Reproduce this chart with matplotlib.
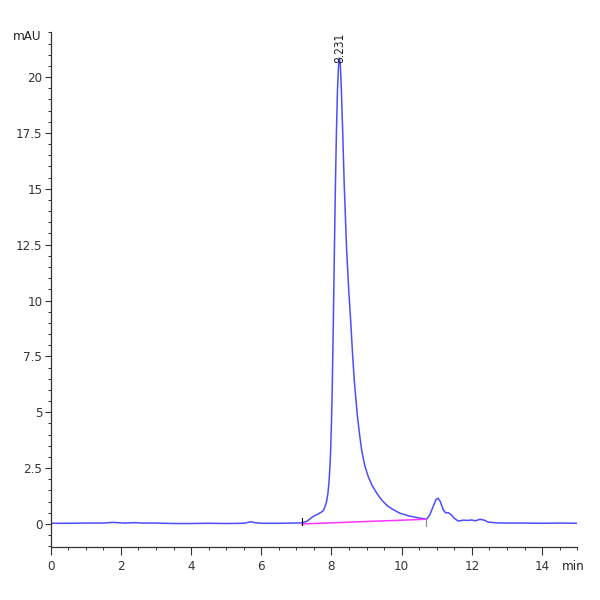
import matplotlib
matplotlib.use("Agg")
import matplotlib.pyplot as plt
from matplotlib.ticker import MultipleLocator
from matplotlib import font_manager

names = {f.name for f in font_manager.fontManager.ttflist}
if 'Liberation Sans Narrow' in names:
    plt.rcParams['font.family'] = ['Liberation Sans Narrow', 'DejaVu Sans']
else:
    plt.rcParams['font.family'] = ['DejaVu Sans']
    plt.rcParams['font.stretch'] = 'condensed'

# retention time (min) and absorbance (mAU)
time = [0.0, 0.5, 1.0, 1.5, 1.75, 1.9, 2.1, 2.4, 2.6, 3.0, 3.5, 4.0, 4.5, 5.0, 5.5,
        5.65, 5.72, 5.8, 6.0, 6.5, 6.9, 7.15, 7.3, 7.47, 7.6, 7.7, 7.77, 7.82, 7.86,
        7.9, 7.93, 7.96, 7.98, 8.0, 8.02, 8.05, 8.08, 8.11, 8.14, 8.17, 8.20, 8.22,
        8.25, 8.28, 8.32, 8.36, 8.43, 8.49, 8.55, 8.60, 8.65, 8.70, 8.74, 8.80, 8.86,
        8.95, 9.05, 9.15, 9.28, 9.43, 9.6, 9.75, 9.95, 10.2, 10.45, 10.66, 10.71,
        10.8, 10.9, 10.98, 11.04, 11.1, 11.18, 11.25, 11.33, 11.42, 11.5, 11.61,
        11.75, 11.9, 11.99, 12.1, 12.23, 12.35, 12.47, 12.7, 13.0, 13.5, 14.0, 14.5,
        15.0]
signal = [0.03, 0.03, 0.04, 0.04, 0.07, 0.06, 0.04, 0.06, 0.04, 0.04, 0.02, 0.02,
          0.03, 0.02, 0.03, 0.08, 0.10, 0.06, 0.03, 0.03, 0.04, 0.05, 0.12, 0.33,
          0.43, 0.52, 0.6, 0.8, 1.0, 1.4, 1.9, 2.7, 3.5, 4.6, 6.0, 8.8, 12.0, 15.0,
          17.5, 19.4, 20.5, 20.85, 20.6, 19.5, 17.5, 15.3, 12.3, 10.5, 9.0, 7.6, 6.4,
          5.5, 4.8, 4.0, 3.3, 2.6, 2.1, 1.75, 1.4, 1.07, 0.8, 0.65, 0.48, 0.36, 0.28,
          0.23, 0.22, 0.4, 0.8, 1.1, 1.15, 1.0, 0.65, 0.5, 0.5, 0.4, 0.25, 0.13, 0.17,
          0.16, 0.18, 0.14, 0.21, 0.17, 0.08, 0.05, 0.04, 0.04, 0.03, 0.04, 0.03]

baseline_t = [7.15, 10.68]
baseline_y = [0.0, 0.21]

peak_rt = 8.231
peak_h = 20.85
peak_label = "8.231"

fig = plt.figure(figsize=(6, 6), dpi=100)
ax = fig.add_axes([0.0845, 0.088, 0.8775, 0.858])

ax.plot(time, signal, color='#4d4dff', lw=1.1)
ax.plot(baseline_t, baseline_y, color='#ff33ff', lw=1.1)
ax.plot([baseline_t[0]] * 2, [-0.05, 0.25], color='black', lw=0.8)
ax.plot([baseline_t[1]] * 2, [baseline_y[1] - 0.3, baseline_y[1]], color='#888888', lw=0.8)

ax.text(peak_rt, peak_h - 0.2, peak_label, rotation=90, ha='center', va='bottom',
        fontsize=8.5, color='#222222')

ax.set_xlim(0, 15.0)
ax.set_ylim(-1.04, 22.0)
ax.xaxis.set_major_locator(MultipleLocator(2))
ax.xaxis.set_minor_locator(MultipleLocator(0.5))
ax.yaxis.set_minor_locator(MultipleLocator(0.5))
ax.set_yticks([0, 2.5, 5, 7.5, 10, 12.5, 15, 17.5, 20])
ax.set_yticklabels(['0', '2.5', '5', '7.5', '10', '12.5', '15', '17.5', '20'])

for s in ['top', 'right']:
    ax.spines[s].set_visible(False)
for s in ['left', 'bottom']:
    ax.spines[s].set_color('#333333')
    ax.spines[s].set_linewidth(0.9)

ax.tick_params(axis='both', which='major', labelsize=9.5, colors='#333333', length=4, width=0.8, pad=2)
ax.tick_params(axis='x', which='major', length=6, pad=3)
ax.tick_params(axis='both', which='minor', length=2.5, width=0.7, colors='#333333')

ax.annotate('mAU', xy=(0, 21.8), xycoords=('axes fraction', 'data'), xytext=(-7, 0),
            textcoords='offset points', ha='right', va='center', fontsize=9.5, color='#222222')
ax.annotate('min', xy=(14.88, 0), xycoords=('data', 'axes fraction'), xytext=(0, -9),
            textcoords='offset points', ha='center', va='top', fontsize=9.5, color='#222222')

fig.savefig('out.png', dpi=100, facecolor='white')
